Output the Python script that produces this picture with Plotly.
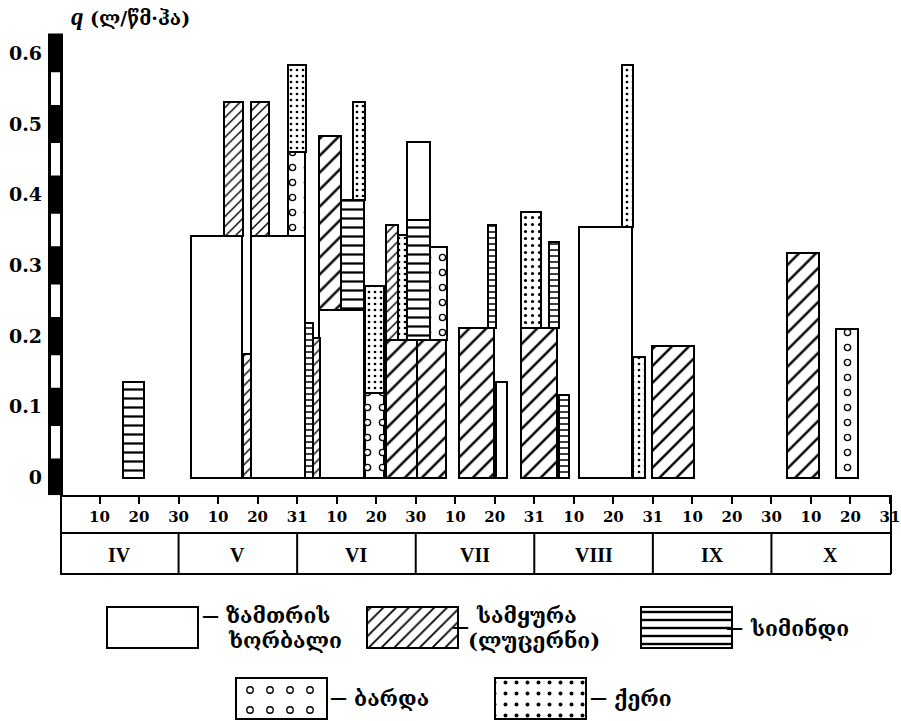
import plotly.graph_objects as go

# ---------------- data (x in ten-day periods from 1 April = 0 to 31 October = 21) -------------
decade_ticks = list(range(1, 22))
decade_labels = ["10", "20", "30", "10", "20", "31", "10", "20", "30", "10", "20", "31",
                 "10", "20", "31", "10", "20", "30", "10", "20", "31"]
months = ["IV", "V", "VI", "VII", "VIII", "IX", "X"]
y_ticks = [0, 0.1, 0.2, 0.3, 0.4, 0.5, 0.6]
y_labels = ["0", "0.1", "0.2", "0.3", "0.4", "0.5", "0.6"]

crop_names = ["ზამთრის ხორბალი", "სამყურა (ლუცერნი)", "სიმინდი", "ბარდა", "ქერი"]
crop_lines = [["ზამთრის", "ხორბალი"], ["სამყურა", "(ლუცერნი)"], ["სიმინდი"], ["ბარდა"], ["ქერი"]]

wheat_start = [3.31, 4.84, 6.56, 8.79, 11.03, 13.12]
wheat_end = [4.60, 6.20, 7.70, 9.35, 11.30, 14.47]
wheat_base = [0, 0, 0, 0.364, 0, 0]
wheat_top = [0.341, 0.341, 0.237, 0.475, 0.135, 0.355]

alfalfa_start = [4.16, 4.62, 4.84, 6.39, 6.56, 8.25, 9.03, 8.25, 10.10, 11.67, 14.99, 18.39]
alfalfa_end = [4.62, 4.84, 5.30, 6.57, 7.10, 9.03, 9.76, 8.55, 10.99, 12.57, 16.03, 19.21]
alfalfa_base = [0.341, 0, 0.341, 0, 0.237, 0, 0, 0.195, 0, 0, 0, 0]
alfalfa_top = [0.531, 0.174, 0.531, 0.198, 0.483, 0.195, 0.195, 0.357, 0.212, 0.212, 0.186, 0.317]

corn_start = [1.59, 6.20, 7.10, 8.79, 10.84, 12.38, 12.63]
corn_end = [2.13, 6.39, 7.70, 9.35, 11.03, 12.63, 12.89]
corn_base = [0, 0, 0.237, 0.195, 0.212, 0.212, 0]
corn_top = [0.135, 0.219, 0.393, 0.364, 0.357, 0.333, 0.117]

pea_start = [5.78, 7.72, 9.35, 19.64]
pea_end = [6.20, 8.21, 9.79, 20.19]
pea_base = [0.341, 0, 0.195, 0]
pea_top = [0.461, 0.119, 0.326, 0.210]

barley_start = [5.78, 7.41, 7.72, 8.55, 11.67, 14.21, 14.49]
barley_end = [6.22, 7.71, 8.21, 8.79, 12.17, 14.51, 14.79]
barley_base = [0.461, 0.393, 0.119, 0.195, 0.212, 0.355, 0]
barley_top = [0.583, 0.531, 0.271, 0.343, 0.375, 0.583, 0.170]

# ---------------- layout helpers ----------------
W, H = 901, 721
ML, MR, MT, MB = 60, 11, 25, 0
PW, PH = W - ML - MR, H - MT - MB


def px_x(px):
    return (px - ML) / PW


def px_y(py):
    return (H - MB - py) / PH


SERIF = "DejaVu Serif, Liberation Serif, serif"
GEO = "DejaVu Serif, DejaVu Sans, sans-serif"

# style per crop: pattern shape, size for wide / narrow bars, solidity
styles = {
    "wheat": dict(shape="", wide=10, narrow=10, sol=0.2),
    "alfalfa": dict(shape="/", wide=12, narrow=7, sol=0.2),
    "corn": dict(shape="-", wide=9, narrow=6, sol=0.25),
    "pea": dict(shape=".", wide=15, narrow=15, sol=0.2),
    "barley": dict(shape=".", wide=7, narrow=6, sol=0.16),
}

fig = go.Figure()


def add_crop(start, end, base, top, st, name, xaxis="x", yaxis="y", holes=False,
             force_size=None, force_sol=None):
    xs = [(a + b) / 2 for a, b in zip(start, end)]
    ws = [b - a for a, b in zip(start, end)]
    ys = [t - b for t, b in zip(top, base)]
    if force_size is not None:
        sizes = [force_size] * len(xs)
    else:
        sizes = [st["narrow"] if w < 0.5 else st["wide"] for w in ws]
    sol = st["sol"] if force_sol is None else force_sol
    fig.add_trace(go.Bar(
        x=xs, width=ws, base=base, y=ys, name=name, showlegend=False,
        xaxis=xaxis, yaxis=yaxis, hoverinfo="skip",
        marker=dict(color="white", line=dict(color="black", width=2),
                    pattern=dict(shape=st["shape"], size=sizes, solidity=sol,
                                 fgcolor="black", bgcolor="white", fgopacity=1,
                                 fillmode="overlay")),
    ))
    if holes:
        fig.add_trace(go.Bar(
            x=xs, width=ws, base=base, y=ys, showlegend=False,
            xaxis=xaxis, yaxis=yaxis, hoverinfo="skip",
            marker=dict(color="rgba(0,0,0,0)", line=dict(width=0),
                        pattern=dict(shape=".", size=sizes, solidity=sol * 0.42,
                                     fgcolor="white", bgcolor="rgba(0,0,0,0)", fgopacity=1,
                                     fillmode="overlay")),
        ))


add_crop(wheat_start, wheat_end, wheat_base, wheat_top, styles["wheat"], crop_names[0])
add_crop(alfalfa_start, alfalfa_end, alfalfa_base, alfalfa_top, styles["alfalfa"], crop_names[1])
add_crop(corn_start, corn_end, corn_base, corn_top, styles["corn"], crop_names[2])
add_crop(pea_start, pea_end, pea_base, pea_top, styles["pea"], crop_names[3], holes=True)
add_crop(barley_start, barley_end, barley_base, barley_top, styles["barley"], crop_names[4])

# ---------------- custom legend (swatches on a second, hidden pixel-unit axis) -------------
keys = ["wheat", "alfalfa", "corn", "pea", "barley"]
# key: box left px, box top px, dash (right px, centre py), text lines [(left px, centre py)]
leg_layout = {
    "wheat": (107, 607, (222, 616), [(224, 615), (226, 640)]),
    "alfalfa": (367, 607, (472, 627), [(474, 615), (466, 640)]),
    "corn": (641, 607, (746, 628), [(748, 628)]),
    "pea": (236, 678, (350, 698), [(352, 698)]),
    "barley": (495, 678, (610, 698), [(612, 698)]),
}
leg_sizes = {"wheat": (10, 0.2), "alfalfa": (9, 0.2), "corn": (8, 0.3),
             "pea": (20, 0.12), "barley": (11, 0.1)}

annotations = []
for i, key in enumerate(keys):
    lx, ty, (dxr, dy), lines = leg_layout[key]
    size, sol = leg_sizes[key]
    add_crop([lx], [lx + 91], [H - (ty + 41)], [H - ty], styles[key], crop_names[i],
             xaxis="x2", yaxis="y2", holes=(key == "pea"), force_size=size, force_sol=sol)
    annotations.append(dict(x=dxr, y=H - dy, xref="x2", yref="y2", text="<b>—</b>", showarrow=False,
                            xanchor="right", yanchor="middle", xshift=-1,
                            font=dict(size=17, color="black", family=SERIF)))
    for (tx, ty2), line in zip(lines, crop_lines[i]):
        annotations.append(dict(x=tx, y=H - ty2, xref="x2", yref="y2", text="<b>" + line + "</b>",
                                showarrow=False, xanchor="left", yanchor="middle", align="left",
                                font=dict(size=21, color="black", family=GEO)))

# month labels
for k, m in enumerate(months):
    annotations.append(dict(x=3 * k + 1.5, y=px_y(555), xref="x", yref="paper", text="<b>" + m + "</b>",
                            showarrow=False, xanchor="center", yanchor="middle",
                            font=dict(size=20, color="black", family="Liberation Serif, serif")))

# axis title
annotations.append(dict(x=px_x(69), y=px_y(17), xref="paper", yref="paper", text="<b><i>q</i></b>",
                        showarrow=False, xanchor="left", yanchor="middle",
                        font=dict(size=25, color="black", family="Liberation Serif, serif")))
annotations.append(dict(x=px_x(88), y=px_y(18), xref="paper", yref="paper", text="<b>(ლ/წმ·ჰა)</b>",
                        showarrow=False, xanchor="left", yanchor="middle",
                        font=dict(size=19, color="black", family=GEO)))

# ---------------- decoration shapes ----------------
shapes = []
LW = 2
# checkered y scale bar
shapes.append(dict(type="rect", xref="paper", yref="y", x0=px_x(48), x1=px_x(63), y0=-0.025, y1=0.628,
                   fillcolor="black", line=dict(width=0), layer="above"))
for k in range(6):
    shapes.append(dict(type="rect", xref="paper", yref="y", x0=px_x(51), x1=px_x(60),
                       y0=k * 0.1 + 0.027, y1=(k + 1) * 0.1 - 0.027,
                       fillcolor="white", line=dict(width=0), layer="above"))
# box under the axis (tick-label row and month row)
for py in (533, 574):
    shapes.append(dict(type="line", xref="paper", yref="paper", x0=px_x(60), x1=px_x(891),
                       y0=px_y(py), y1=px_y(py), line=dict(color="black", width=LW)))
for pxv in (61, 891):
    shapes.append(dict(type="line", xref="paper", yref="paper", x0=px_x(pxv), x1=px_x(pxv),
                       y0=px_y(495), y1=px_y(574), line=dict(color="black", width=LW)))
for k in range(1, 7):
    shapes.append(dict(type="line", xref="paper", yref="paper", x0=3 * k / 21, x1=3 * k / 21,
                       y0=px_y(533), y1=px_y(574), line=dict(color="black", width=LW)))

fig.update_layout(
    width=W, height=H,
    margin=dict(l=ML, r=MR, t=MT, b=MB),
    paper_bgcolor="white", plot_bgcolor="white",
    barmode="overlay", bargap=0,
    showlegend=False,
    xaxis=dict(domain=[0, 1], range=[0, 21], anchor="y", tickmode="array", tickvals=decade_ticks,
               ticktext=decade_labels, ticks="outside", ticklen=7, tickwidth=2, tickcolor="black",
               showline=True, linewidth=2, linecolor="black", showgrid=False, zeroline=False,
               tickfont=dict(family=SERIF, size=15, color="black", weight="bold"), automargin=False,
               fixedrange=True),
    yaxis=dict(domain=[px_y(495.2), 1], range=[-0.025, 0.64], anchor="x", tickmode="array",
               tickvals=y_ticks, ticktext=y_labels, ticks="", showline=False, showgrid=False,
               zeroline=False, ticklabelstandoff=17,
               tickfont=dict(family=SERIF, size=19, color="black", weight="bold"), automargin=False,
               fixedrange=True),
    xaxis2=dict(domain=[0, 1], range=[ML, W - MR], anchor="y2", visible=False, fixedrange=True),
    yaxis2=dict(domain=[0, px_y(600)], range=[0, H - MB - 600], anchor="x2", visible=False,
                fixedrange=True),
    shapes=shapes,
    annotations=annotations,
)

fig.write_html("out.html", config={"displayModeBar": False},
               post_script="document.body.style.margin='0px';document.body.style.overflow='hidden';")
